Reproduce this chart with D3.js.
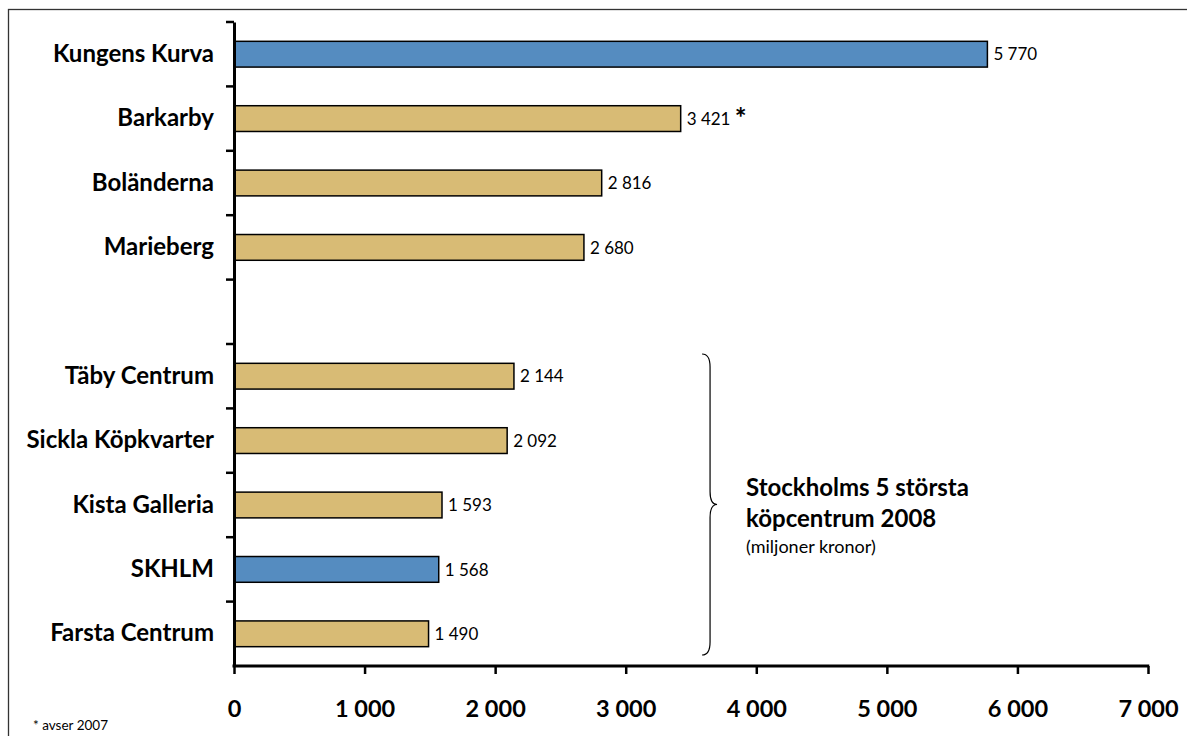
<!DOCTYPE html>
<head>
  <meta charset="UTF-8">
  <style>
    body { margin: 0; background: #fff; }
    text { font-family: Lato, "Open Sans", sans-serif; fill: #000; }
  </style>
  <title>Stockholms 5 största köpcentrum 2008</title>
</head>
<body>
  <script src="https://cdn.jsdelivr.net/npm/d3@7"></script>
  <script>
    // data (empty string = gap row)
    var categories = ["Kungens Kurva", "Barkarby", "Boländerna", "Marieberg", "",
                      "Täby Centrum", "Sickla Köpkvarter", "Kista Galleria", "SKHLM", "Farsta Centrum"];
    var values = [5770, 3421, 2816, 2680, null, 2144, 2092, 1593, 1568, 1490];
    var highlighted = ["Kungens Kurva", "SKHLM"];
    var starred = ["Barkarby"];
    var xTicks = [0, 1000, 2000, 3000, 4000, 5000, 6000, 7000];

    var width = 1187;
    var height = 736;
    var blue = "#558cc0";
    var tan = "#d8bb75";

    var locale = d3.formatLocale({ decimal: ",", thousands: " ", grouping: [3] });
    var fmt = locale.format(",d");

    var svg = d3.select("body").append("svg")
      .attr("width", width)
      .attr("height", height);

    // outer frame (runs off the right and bottom edges)
    svg.append("rect")
      .attr("x", 8.5).attr("y", 9.5)
      .attr("width", 1300).attr("height", 900)
      .attr("fill", "none")
      .attr("stroke", "#333")
      .attr("stroke-width", 1.3);

    var x = d3.scaleLinear().domain([0, 7000]).range([234, 1148]);
    var y = d3.scaleBand().domain(categories).range([22, 666])
      .paddingInner(0.6).paddingOuter(0.3);

    var rows = categories.map(function (c, i) { return { name: c, value: values[i] }; })
      .filter(function (d) { return d.value != null; });

    // bars
    svg.append("g").attr("id", "bars")
      .selectAll("rect")
      .data(rows)
      .enter()
      .append("rect")
      .attr("x", x(0))
      .attr("y", function (d) { return y(d.name); })
      .attr("width", function (d) { return x(d.value) - x(0); })
      .attr("height", y.bandwidth())
      .attr("fill", function (d) { return highlighted.indexOf(d.name) >= 0 ? blue : tan; })
      .attr("stroke", "#000")
      .attr("stroke-width", 1.5);

    // value labels
    var labels = svg.append("g").attr("id", "labels");
    labels.selectAll("text")
      .data(rows)
      .enter()
      .append("text")
      .attr("x", function (d) { return x(d.value) + 6; })
      .attr("y", function (d) { return y(d.name) + y.bandwidth() / 2; })
      .attr("dy", "0.36em")
      .attr("font-size", 17)
      .text(function (d) { return fmt(d.value); });

    // asterisk for values from 2007
    rows.filter(function (d) { return starred.indexOf(d.name) >= 0; }).forEach(function (d) {
      svg.append("text")
        .attr("x", x(d.value) + 54)
        .attr("y", y(d.name) + y.bandwidth() / 2 + 9)
        .attr("font-size", 28)
        .attr("font-weight", "bold")
        .text("*");
    });

    // X axis
    var xAxis = d3.axisBottom(x).tickValues(xTicks).tickFormat(fmt)
      .tickSize(8).tickSizeOuter(0);
    var gx = svg.append("g")
      .attr("id", "x_axis")
      .attr("transform", "translate(0,666)")
      .call(xAxis);
    gx.select(".domain").attr("stroke-width", 3).attr("d", "M" + (x(0) - 1.5) + ",0H" + (x(7000) + 1.25));
    gx.selectAll(".tick line").attr("stroke-width", 2.5);
    gx.selectAll(".tick text")
      .attr("y", 51).attr("dy", null)
      .attr("font-size", 23.5).attr("font-weight", "bold")
      .attr("font-family", "Lato, sans-serif");

    // Y axis: labels from the band scale, ticks between categories
    var yAxis = d3.axisLeft(y).tickSize(0).tickPadding(20).tickSizeOuter(0);
    var gy = svg.append("g")
      .attr("id", "y_axis")
      .attr("transform", "translate(" + x(0) + ",0)")
      .call(yAxis);
    gy.select(".domain").attr("stroke-width", 3);
    gy.selectAll(".tick text")
      .attr("font-size", 24).attr("font-weight", "bold")
      .attr("font-family", "Lato, sans-serif");

    var bounds = d3.range(categories.length + 1).map(function (i) { return y.range()[0] + i * y.step(); });
    gy.selectAll(".bound")
      .data(bounds.slice(0, -1))
      .enter()
      .append("line")
      .attr("class", "bound")
      .attr("x1", -8).attr("x2", 0)
      .attr("y1", function (d) { return d; })
      .attr("y2", function (d) { return d; })
      .attr("stroke", "#000")
      .attr("stroke-width", 2.5);

    // brace around the five biggest centres
    var braceTop = y("Täby Centrum") - y.step() * 0.3 + 10;
    var braceBottom = y("Farsta Centrum") + y.bandwidth() + y.step() * 0.3 - 11;
    var braceMid = (braceTop + braceBottom) / 2;
    var bx = x(3600) - 2, bv = bx + 8, bp = bx + 15;
    svg.append("path")
      .attr("d", "M" + bx + "," + braceTop +
        " Q" + bv + "," + braceTop + " " + bv + "," + (braceTop + 13) +
        " L" + bv + "," + (braceMid - 13) +
        " Q" + bv + "," + braceMid + " " + bp + "," + braceMid +
        " Q" + bv + "," + braceMid + " " + bv + "," + (braceMid + 13) +
        " L" + bv + "," + (braceBottom - 13) +
        " Q" + bv + "," + braceBottom + " " + bx + "," + braceBottom)
      .attr("fill", "none")
      .attr("stroke", "#000")
      .attr("stroke-width", 1.2);

    var note = svg.append("g").attr("id", "note");
    note.append("text")
      .attr("x", bp + 29).attr("y", braceMid - 9)
      .attr("font-size", 24).attr("font-weight", "bold")
      .text("Stockholms 5 största");
    note.append("text")
      .attr("x", bp + 29).attr("y", braceMid + 22)
      .attr("font-size", 24).attr("font-weight", "bold")
      .text("köpcentrum 2008");
    note.append("text")
      .attr("x", bp + 29).attr("y", braceMid + 48)
      .attr("font-size", 18)
      .text("(miljoner kronor)");

    // footnote
    svg.append("text")
      .attr("x", 33).attr("y", 730)
      .attr("font-size", 13.5)
      .text("* avser 2007");
  </script>
</body>
